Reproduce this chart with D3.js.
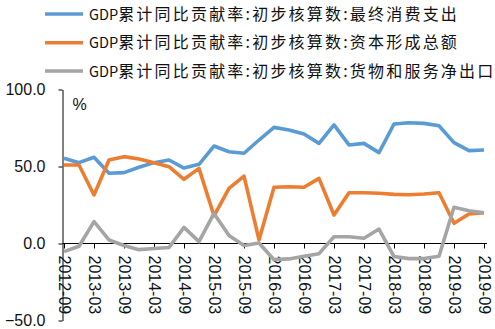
<!DOCTYPE html>
<html><head><meta charset="utf-8">
<script src="https://cdn.jsdelivr.net/npm/d3@7"></script>
<style>
html,body{margin:0;padding:0;background:#fff;}
svg{display:block;}
</style></head>
<body>
<svg id="chart" width="495" height="329"></svg>
<script>
const categories = ["2012-09","2012-12","2013-03","2013-06","2013-09","2013-12","2014-03","2014-06","2014-09","2014-12",
  "2015-03","2015-06","2015-09","2015-12","2016-03","2016-06","2016-09","2016-12","2017-03","2017-06","2017-09","2017-12",
  "2018-03","2018-06","2018-09","2018-12","2019-03","2019-06","2019-09"];
const consumption = [55.3,52.5,56.0,45.6,46.0,49.5,52.5,54.2,49.0,51.4,63.3,59.6,58.6,67.2,75.4,73.7,71.1,65.0,77.0,64.0,65.0,59.0,77.6,78.4,78.0,76.5,65.5,60.3,60.7];
const capital = [51.0,51.0,31.5,54.2,56.4,54.9,52.5,49.9,41.7,48.8,18.0,35.8,43.8,2.3,36.5,36.9,36.5,42.3,18.5,33.0,33.0,32.6,31.9,31.7,32.1,33.0,13.1,19.2,20.0];
const netExports = [-5.3,-1.8,14.2,2.3,-1.3,-4.0,-3.2,-2.6,10.5,1.2,19.5,5.2,-1.3,0.3,-10.5,-10.0,-8.3,-6.6,4.4,4.4,3.4,9.4,-8.5,-9.8,-9.8,-8.3,23.5,21.3,20.0];
const seriesPrefix = "GDP";
const seriesNames = ["累计同比贡献率:初步核算数:最终消费支出","累计同比贡献率:初步核算数:资本形成总额","累计同比贡献率:初步核算数:货物和服务净出口"];
const seriesColors = ["#5B9BD5","#ED7D31","#A5A5A5"];
const yTicks = [-50,0,50,100];
const unitLabel = "%";

const svg = d3.select("#chart");
const x = d3.scalePoint().domain(categories).range([64,484]);
const y = d3.scaleLinear().domain([-50,100]).range([320.5,89.5]);
const axisX = 62.5;
const font = '"Liberation Sans", Arial, sans-serif';

// y axis
const gy = svg.append("g").attr("transform",`translate(${axisX},0)`)
  .call(d3.axisLeft(y).tickValues(yTicks).tickSize(4).tickSizeOuter(0).tickPadding(13).tickFormat(d3.format(".1f")));
gy.select(".domain").attr("stroke","#000");
gy.selectAll(".tick line").attr("stroke","#000");
gy.selectAll("text").attr("font-family",font).attr("font-size",16).attr("fill","#111");

// x axis
const gx = svg.append("g").attr("transform",`translate(0,${y(0)})`)
  .call(d3.axisBottom(x).tickValues(categories.filter((d,i)=>i%2===0)).tickSize(5).tickSizeOuter(0));
gx.select(".domain").remove();
gx.append("line").attr("x1",axisX).attr("x2",487).attr("y1",0).attr("y2",0).attr("stroke","#000");
gx.selectAll(".tick line").attr("stroke","#000");
gx.selectAll("text").attr("font-family",font).attr("font-size",16).attr("fill","#111")
  .attr("transform","rotate(90)").attr("x",12).attr("y",0).attr("dy","0.35em").style("text-anchor","start");

// % label
svg.append("text").attr("x",72.5).attr("y",104).attr("dy","0.35em").attr("font-family",font)
  .attr("font-size",16).attr("fill","#111").text(unitLabel);

// lines
const data = [consumption, capital, netExports];
const line = d3.line().x((d,i)=>x(categories[i])).y(d=>y(d));
data.forEach((s,k)=>{
  svg.append("path").datum(s).attr("d",line).attr("fill","none")
    .attr("stroke",seriesColors[k]).attr("stroke-width",3.6).attr("stroke-linejoin","round");
});

// legend
const legendY = [14,42.7,71];
seriesNames.forEach((n,k)=>{
  const g = svg.append("g").attr("transform",`translate(0,${legendY[k]})`);
  g.append("line").attr("x1",45).attr("x2",83).attr("y1",0).attr("y2",0)
    .attr("stroke",seriesColors[k]).attr("stroke-width",3.6);
  const t = g.append("text").attr("x",89).attr("y",0).attr("dy","0.36em")
    .attr("font-family",'"Noto Sans CJK SC", sans-serif').attr("fill","#111");
  t.append("tspan").attr("font-size",14.5).text(seriesPrefix);
  t.append("tspan").attr("font-size",16).attr("letter-spacing",2.2).text(n);
});
</script>
</body></html>
